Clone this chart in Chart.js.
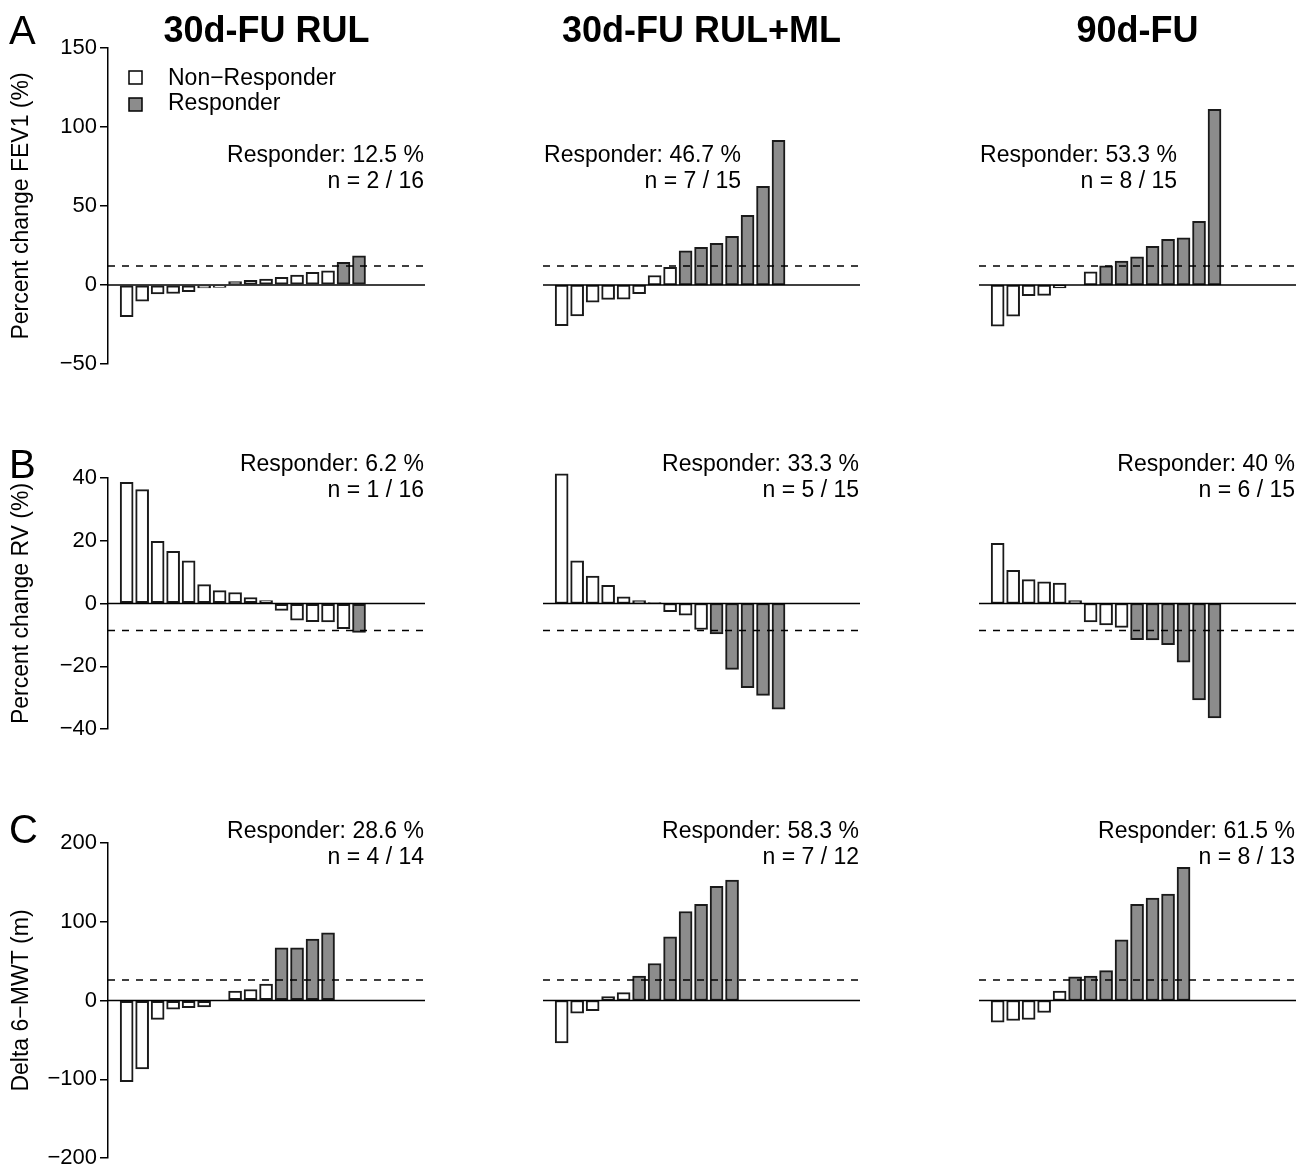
<!DOCTYPE html>
<html>
<head>
<meta charset="utf-8">
<script src="https://cdn.jsdelivr.net/npm/chart.js@4"></script>
<style>
  html, body { margin: 0; background: #fff; overflow: hidden; }
  #wrap { position: relative; width: 1307px; height: 1166px; overflow: hidden; }
  canvas { position: absolute; }
</style>
</head>
<body>
<div id="wrap"></div>
<script>
// column and row labels
const columnTitles = ["30d-FU RUL", "30d-FU RUL+ML", "90d-FU"];
const rowLetters = ["A", "B", "C"];
const rowTitles = ["Percent change FEV1 (%)", "Percent change RV (%)", "Delta 6\u2212MWT (m)"];

// per-patient change, sorted
const fev1Rul = [-20.1, -10.2, -5.6, -5.4, -4.3, -1.9, -1.6, 2.1, 3.0, 3.8, 4.9, 6.3, 8.0, 8.9, 14.4, 18.5];
const fev1RulMl = [-25.8, -19.6, -10.8, -9.1, -9.0, -5.5, 6.0, 11.2, 21.7, 23.9, 26.4, 30.8, 44.1, 62.5, 91.6];
const fev1Fu90 = [-26.0, -19.8, -6.7, -6.6, -1.8, 0, 8.4, 12.2, 15.2, 17.9, 24.5, 28.9, 29.9, 40.3, 111.2];

const rvRul = [38.6, 36.3, 19.8, 16.6, 13.6, 6.0, 4.1, 3.5, 1.9, 0.9, -2.2, -5.3, -5.8, -5.9, -8.0, -9.2];
const rvRulMl = [41.3, 13.6, 8.7, 5.8, 2.1, 0.9, 0.3, -2.6, -3.7, -8.3, -9.7, -21.0, -26.8, -29.3, -33.7];
const rvFu90 = [19.2, 10.6, 7.6, 6.9, 6.5, 0.9, -5.9, -6.8, -7.6, -11.5, -11.6, -13.1, -18.7, -30.7, -36.5];

const mwtRul = [-103, -87, -24, -11, -9, -8, 0, 12, 14, 21, 67, 67, 78, 86];
const mwtRulMl = [-54, -16, -13, 5, 10, 31, 47, 81, 113, 122, 145, 153];
const mwtFu90 = [-27.5, -25.4, -24.1, -15.2, 12, 30, 31, 38, 77, 122, 130, 135, 169];

// responder thresholds (MCID) and which side counts as response
const thresholds = [12, -8.6, 26];
const directions = [1, -1, 1];

// annotation texts
const responderText = [
  ["Responder: 12.5 %", "Responder: 46.7 %", "Responder: 53.3 %"],
  ["Responder: 6.2 %", "Responder: 33.3 %", "Responder: 40 %"],
  ["Responder: 28.6 %", "Responder: 58.3 %", "Responder: 61.5 %"]
];
const countText = [
  ["n = 2 / 16", "n = 7 / 15", "n = 8 / 15"],
  ["n = 1 / 16", "n = 5 / 15", "n = 6 / 15"],
  ["n = 4 / 14", "n = 7 / 12", "n = 8 / 13"]
];

// axis ranges
const yMins = [-50, -40, -200];
const yMaxs = [150, 40, 200];
const ySteps = [50, 20, 100];

const legendLabels = ["Non\u2212Responder", "Responder"];

const rows = [
  [fev1Rul, fev1RulMl, fev1Fu90],
  [rvRul, rvRulMl, rvFu90],
  [mwtRul, mwtRulMl, mwtFu90]
];

// layout in pixels
const FONT = "'Liberation Sans', Arial, Helvetica, sans-serif";
const GREY = "#8c8c8c";
const colLeft = [0, 435, 871];
const canvasW = 437;
const rowTop = [0, 400, 780];
const rowH = [400, 380, 420];
const padTop = [48, 78, 63];
const areaH = [316, 251, 315];
const textBase = [[162, 188], [71, 97], [58, 84]];

const panelDecor = {
  id: "panelDecor",
  afterDatasetsDraw(chart, args, o) {
    const { ctx, chartArea: a, scales: { y } } = chart;
    ctx.save();
    ctx.strokeStyle = "#000";
    ctx.lineWidth = 1.5;
    ctx.setLineDash([7, 7]);
    const ty = y.getPixelForValue(o.threshold);
    ctx.beginPath(); ctx.moveTo(a.left, ty); ctx.lineTo(a.right, ty); ctx.stroke();
    ctx.setLineDash([]);
    const zy = y.getPixelForValue(0);
    ctx.beginPath(); ctx.moveTo(a.left, zy); ctx.lineTo(a.right, zy); ctx.stroke();
    ctx.restore();
  },
  afterDraw(chart, args, o) {
    const ctx = chart.ctx;
    const a = chart.chartArea;
    ctx.save();
    ctx.fillStyle = "#000";
    ctx.textBaseline = "alphabetic";
    ctx.font = "23px " + FONT;
    ctx.textAlign = "right";
    ctx.fillText(o.lines[0], o.textRight, o.base[0]);
    ctx.fillText(o.lines[1], o.textRight, o.base[1]);
    if (o.title) {
      ctx.font = "bold 36px " + FONT;
      ctx.textAlign = "center";
      ctx.fillText(o.title, (a.left + a.right) / 2, 42);
    }
    if (o.letter) {
      ctx.font = "40px " + FONT;
      ctx.textAlign = "left";
      ctx.fillText(o.letter, 9, o.letterBase);
    }
    if (o.legend) {
      ctx.lineWidth = 1.5;
      ctx.strokeStyle = "#000";
      ctx.font = "23px " + FONT;
      ctx.textAlign = "left";
      [["#fff", 71, 85], [GREY, 98, 110]].forEach((s, i) => {
        ctx.fillStyle = s[0];
        ctx.fillRect(129, s[1], 13, 13);
        ctx.strokeRect(129, s[1], 13, 13);
        ctx.fillStyle = "#000";
        ctx.fillText(legendLabels[i], 168, s[2]);
      });
    }
    ctx.restore();
  }
};

const wrap = document.getElementById("wrap");

rows.forEach((rowData, r) => {
  rowData.forEach((values, c) => {
    const cv = document.createElement("canvas");
    cv.width = canvasW;
    cv.height = rowH[r];
    cv.style.left = colLeft[c] + "px";
    cv.style.top = rowTop[r] + "px";
    wrap.appendChild(cv);

    const colors = values.map(v => (v * directions[r] >= thresholds[r] * directions[r] ? GREY : "#fff"));

    const yAxis = {
      display: c === 0,
      min: yMins[r],
      max: yMaxs[r],
      border: { display: true, color: "#000", width: 1.5 },
      grid: { drawOnChartArea: false, drawTicks: true, tickLength: 8, color: "#000", lineWidth: 1.5 },
      ticks: {
        stepSize: ySteps[r],
        color: "#000",
        padding: 3,
        font: { family: FONT, size: 22 },
        callback: v => String(v).replace("-", "\u2212")
      },
      title: {
        display: true,
        text: rowTitles[r],
        color: "#000",
        font: { family: FONT, size: 23 },
        padding: { top: 8 }
      }
    };
    if (c === 0) yAxis.afterFit = scale => { scale.width = 108; };

    new Chart(cv, {
      type: "bar",
      data: {
        datasets: [{
          data: values.map((v, i) => ({ x: i, y: v })),
          backgroundColor: colors,
          borderColor: "#1a1a1a",
          borderWidth: 2,
          borderSkipped: false,
          barThickness: 13,
          clip: false
        }]
      },
      options: {
        responsive: false,
        animation: false,
        devicePixelRatio: 1,
        layout: {
          padding: {
            left: c === 0 ? 0 : 108,
            right: 12,
            top: padTop[r],
            bottom: rowH[r] - padTop[r] - areaH[r]
          }
        },
        plugins: {
          legend: { display: false },
          tooltip: { enabled: false },
          panelDecor: {
            threshold: thresholds[r],
            lines: [responderText[r][c], countText[r][c]],
            textRight: r === 0 && c > 0 ? 306 : 424,
            base: textBase[r],
            title: r === 0 ? columnTitles[c] : null,
            letter: c === 0 ? rowLetters[r] : null,
            letterBase: [44, 78, 63][r],
            legend: r === 0 && c === 0
          }
        },
        scales: {
          x: {
            type: "linear",
            display: false,
            offset: false,
            min: -1.204,
            max: 19.26
          },
          y: yAxis
        }
      },
      plugins: [panelDecor]
    });
  });
});
</script>
</body>
</html>
